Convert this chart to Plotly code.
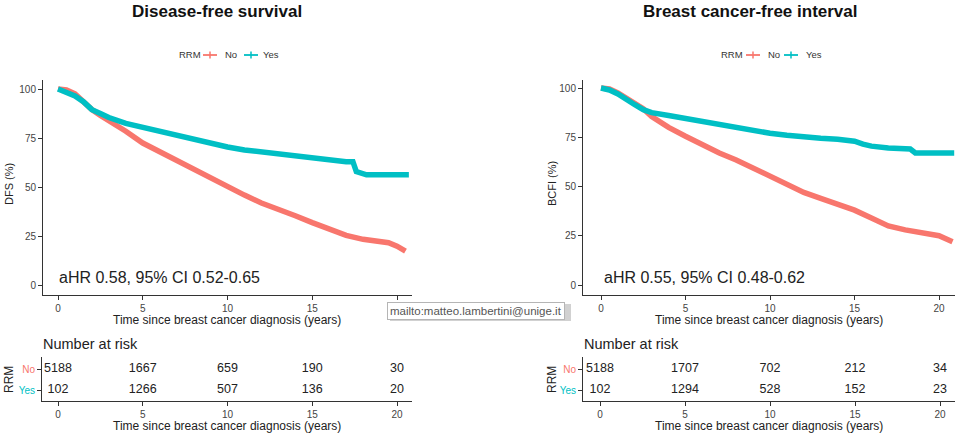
import plotly.graph_objects as go

W, H = 960, 436
RED = "#F8766D"
TEAL = "#00BFC4"
FONT = "Liberation Sans, Arial, sans-serif"

# ---------------- data ----------------
# Disease-free survival, RRM = No
dfs_no_t = [0, 0.5, 1, 1.5, 2, 2.5, 3, 4, 5, 6, 7, 8, 9, 10, 11, 12, 13, 14, 15, 16, 17, 18, 19, 19.5, 20, 20.5]
dfs_no_v = [100, 99.5, 97.5, 93.5, 89.5, 86.5, 84, 78.5, 72.5, 68, 64, 59.5, 55, 50.5, 46, 42, 39, 35.5, 32, 28.5, 25.5, 23.5, 22.3, 21.8, 20, 17.5]
# Disease-free survival, RRM = Yes
dfs_yes_t = [0, 0.5, 1, 1.5, 2, 2.5, 3, 4, 5, 6, 7, 8, 9, 10, 11, 12, 13, 14, 15, 16, 17, 17.4, 17.6, 18.2, 19, 20, 20.7]
dfs_yes_v = [100, 98.5, 96.5, 93.5, 89.5, 87.5, 85.5, 82.5, 80.5, 78.5, 76, 74, 72, 70.5, 69, 68, 66.8, 65.5, 65, 63.5, 63, 63, 58, 56.3, 56.3, 56.3, 56.3]
# Breast cancer-free interval, RRM = No
bcfi_no_t = [0, 0.5, 1, 1.5, 2, 2.5, 3, 4, 5, 6, 7, 8, 9, 10, 11, 12, 13, 14, 15, 16, 17, 18, 19, 20, 20.8]
bcfi_no_v = [100, 99.5, 97.5, 95, 92, 89.5, 85.5, 80, 75.5, 71, 67, 63.5, 59.5, 55.5, 51, 47, 44, 41, 38, 34, 30, 28, 26.5, 25, 22]
# Breast cancer-free interval, RRM = Yes
bcfi_yes_t = [0, 0.5, 1, 1.5, 2, 2.5, 3, 4, 5, 6, 7, 8, 9, 10, 11, 12, 13, 14, 15, 15.5, 16, 17, 18, 18.3, 18.6, 19, 20, 20.9]
bcfi_yes_v = [100, 99, 97, 94, 91.5, 89, 87.5, 86, 84.5, 83, 81.5, 79.5, 78.5, 77, 76, 75, 74.5, 74, 73, 71.5, 70.5, 69.5, 69, 69, 67, 67, 67, 67]

# Number at risk
risk_times = [0, 5, 10, 15, 20]
risk_dfs_no = [5188, 1667, 659, 190, 30]
risk_dfs_yes = [102, 1266, 507, 136, 20]
risk_bcfi_no = [5188, 1707, 702, 212, 34]
risk_bcfi_yes = [102, 1294, 528, 152, 23]

x_ticks = [0, 5, 10, 15, 20]
y_ticks = [0, 25, 50, 75, 100]
groups = ["No", "Yes"]

# ---------------- layout helpers ----------------
def fx(p):
    return p / W

def fy(p):
    return 1 - p / H

def rng(a, b, p0, v0, p1, v1):
    s = (v1 - v0) / (p1 - p0)
    return [v0 + (a - p0) * s, v0 + (b - p0) * s]

fig = go.Figure()

def add_curve(t, v, color, xa, ya, name):
    fig.add_trace(go.Scatter(x=t, y=v, mode="lines", name=name,
                             line=dict(color=color, width=5.5),
                             xaxis=xa, yaxis=ya, showlegend=False, hoverinfo="skip"))

add_curve(dfs_no_t, dfs_no_v, RED, "x", "y", "No")
add_curve(dfs_yes_t, dfs_yes_v, TEAL, "x", "y", "Yes")
add_curve(bcfi_no_t, bcfi_no_v, RED, "x2", "y2", "No")
add_curve(bcfi_yes_t, bcfi_yes_v, TEAL, "x2", "y2", "Yes")

def add_risk(vals, row, xa, ya):
    fig.add_trace(go.Scatter(x=risk_times, y=[row] * len(vals), mode="text",
                             text=[str(v) for v in vals],
                             textfont=dict(size=12.5, color="#222", family=FONT),
                             textposition="middle center",
                             xaxis=xa, yaxis=ya, showlegend=False, hoverinfo="skip"))

add_risk(risk_dfs_no, 2, "x3", "y3")
add_risk(risk_dfs_yes, 1, "x3", "y3")
add_risk(risk_bcfi_no, 2, "x4", "y4")
add_risk(risk_bcfi_yes, 1, "x4", "y4")

axis_common = dict(showline=True, linecolor="#333", linewidth=1, ticks="outside",
                   ticklen=4, tickcolor="#333", tickwidth=1, showgrid=False, zeroline=False,
                   tickfont=dict(size=10, color="#444", family=FONT), fixedrange=True)

# main panels
fig.update_layout(
    xaxis=dict(domain=[fx(43), fx(412)], range=rng(43, 412, 58, 0, 397, 20),
               tickvals=x_ticks, anchor="y", **axis_common),
    yaxis=dict(domain=[fy(295), fy(80)], range=rng(295, 80, 285.5, 0, 89, 100),
               tickvals=y_ticks, anchor="x", **axis_common),
    xaxis2=dict(domain=[fx(583), fx(955)], range=rng(583, 955, 601, 0, 939, 20),
                tickvals=x_ticks, anchor="y2", **axis_common),
    yaxis2=dict(domain=[fy(295), fy(80)], range=rng(295, 80, 285, 0, 88, 100),
                tickvals=y_ticks, anchor="x2", **axis_common),
    xaxis3=dict(domain=[fx(42), fx(412)], range=rng(42, 412, 58, 0, 397, 20),
                tickvals=x_ticks, anchor="y3", **axis_common),
    yaxis3=dict(domain=[fy(401), fy(357)], range=rng(401, 357, 390, 1, 369, 2),
                tickvals=[1, 2],
                ticktext=[f'<span style="color:{TEAL}">{groups[1]}</span>',
                          f'<span style="color:{RED}">{groups[0]}</span>'],
                anchor="x3", **axis_common),
    xaxis4=dict(domain=[fx(583), fx(955)], range=rng(583, 955, 600, 0, 940, 20),
                tickvals=x_ticks, anchor="y4", **axis_common),
    yaxis4=dict(domain=[fy(401), fy(357)], range=rng(401, 357, 390, 1, 369, 2),
                tickvals=[1, 2],
                ticktext=[f'<span style="color:{TEAL}">{groups[1]}</span>',
                          f'<span style="color:{RED}">{groups[0]}</span>'],
                anchor="x4", **axis_common),
)

ann = []
shapes = []

def text(x, y, s, size, color="#222", bold=False, angle=0, xanchor="center", yanchor="middle"):
    ann.append(dict(x=fx(x), y=fy(y), xref="paper", yref="paper", text=f"<b>{s}</b>" if bold else s,
                    showarrow=False, textangle=angle, xanchor=xanchor, yanchor=yanchor,
                    font=dict(size=size, color=color, family=FONT)))

# titles
text(217, 11, "Disease-free survival", 17, "#111", bold=True)
text(750, 11, "Breast cancer-free interval", 17, "#111", bold=True)

# legends (manual, small glyphs)
def legend(x_rrm, x_red, x_no, x_teal, x_yes, y=55):
    text(x_rrm, y, "RRM", 9.5, "#333", xanchor="left")
    for cx, col in ((x_red, RED), (x_teal, TEAL)):
        shapes.append(dict(type="line", xref="paper", yref="paper", x0=fx(cx - 7), x1=fx(cx + 7),
                           y0=fy(y), y1=fy(y), line=dict(color=col, width=1.8)))
        shapes.append(dict(type="line", xref="paper", yref="paper", x0=fx(cx), x1=fx(cx),
                           y0=fy(y - 3.5), y1=fy(y + 3.5), line=dict(color=col, width=1.5)))
    text(x_no, y, "No", 9.5, "#333", xanchor="left")
    text(x_yes, y, "Yes", 9.5, "#333", xanchor="left")

legend(177, 210, 223, 251, 261)
legend(719, 753, 766, 791, 804)

# axis titles
text(9, 184, "DFS (%)", 11, "#222", angle=-90)
text(552, 184, "BCFI (%)", 11, "#222", angle=-90)
text(227, 320, "Time since breast cancer diagnosis (years)", 12, "#222")
text(769, 320, "Time since breast cancer diagnosis (years)", 12, "#222")
text(227, 426, "Time since breast cancer diagnosis (years)", 12, "#222")
text(769, 426, "Time since breast cancer diagnosis (years)", 12, "#222")
text(9, 380, "RRM", 12, "#222", angle=-90)
text(552, 380, "RRM", 12, "#222", angle=-90)

# table titles
text(41, 344, "Number at risk", 14.5, "#222", xanchor="left")
text(582, 344, "Number at risk", 14.5, "#222", xanchor="left")

# hazard-ratio labels
text(57, 277, "aHR 0.58, 95% CI 0.52-0.65", 16, "#222", xanchor="left")
text(602, 277, "aHR 0.55, 95% CI 0.48-0.62", 16, "#222", xanchor="left")

# tooltip overlay seen in the screenshot
shapes.append(dict(type="rect", xref="paper", yref="paper", x0=fx(390), x1=fx(571),
                   y0=fy(321), y1=fy(304), fillcolor="rgba(0,0,0,0.18)", line=dict(width=0),
                   layer="above"))
ann.append(dict(x=fx(387), y=fy(302), xref="paper", yref="paper", xanchor="left", yanchor="top",
                text="mailto:matteo.lambertini@unige.it", showarrow=False,
                borderpad=2, bgcolor="white", bordercolor="#b5b5b5",
                borderwidth=1, font=dict(size=11.5, color="#555", family=FONT)))

fig.update_layout(
    width=W, height=H, margin=dict(l=0, r=0, t=0, b=0),
    paper_bgcolor="white", plot_bgcolor="white",
    annotations=ann, shapes=shapes, showlegend=False,
    font=dict(family=FONT),
)

fig.write_html("out.html", config={"displayModeBar": False},
               post_script="document.body.style.margin='0';document.body.style.overflow='hidden';")
